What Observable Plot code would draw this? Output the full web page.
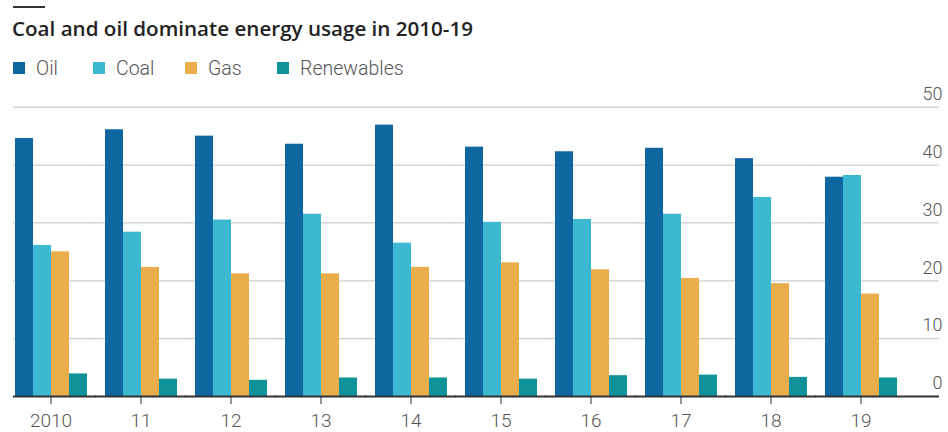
<!DOCTYPE html>
<html>
<head>
<meta charset="utf-8">
<script src="https://cdn.jsdelivr.net/npm/d3@7"></script>
<script src="https://cdn.jsdelivr.net/npm/@observablehq/plot@0.6"></script>
<style>
  body { margin: 0; background: #fff; font-family: "Open Sans", sans-serif; }
  #wrap { position: relative; width: 948px; height: 432px; overflow: hidden; background: #fff; }
  #topline { position: absolute; left: 13px; top: 6px; width: 32px; height: 2px; background: #333; }
  #title { position: absolute; left: 12px; top: 15px; font-size: 20.6px; font-weight: 600; color: #222; white-space: nowrap; line-height: 26px; }
  #legend { position: absolute; left: 0; top: 56px; height: 24px; width: 948px; }
  .item { position: absolute; top: 0; height: 24px; display: flex; align-items: center; font-size: 19.5px; color: #555; font-family: Roboto, sans-serif; font-weight: 300; white-space: nowrap; }
  .sw { width: 12px; height: 12px; margin-right: 11px; flex: none; }
  #chart { position: absolute; left: 0; top: 80px; }
</style>
</head>
<body>
<div id="wrap">
  <div id="topline"></div>
  <div id="title">Coal and oil dominate energy usage in 2010-19</div>
  <div id="legend"></div>
  <div id="chart"></div>
</div>
<script>
const years = ["2010","2011","2012","2013","2014","2015","2016","2017","2018","2019"];
const yearLabels = ["2010","11","12","13","14","15","16","17","18","19"];
const series = ["Oil","Coal","Gas","Renewables"];
const colors = ["#0f67a0","#3cb8d0","#e9ae4b","#0f9299"];
const oil = [44.6,46.1,45.0,43.6,46.9,43.1,42.3,42.9,41.1,37.9];
const coal = [26.1,28.4,30.5,31.5,26.5,30.1,30.6,31.5,34.4,38.2];
const gas = [25.0,22.3,21.2,21.2,22.3,23.1,21.9,20.4,19.5,17.7];
const renewables = [3.9,3.0,2.8,3.2,3.2,3.0,3.6,3.7,3.3,3.2];
const yTicks = [0,10,20,30,40,50];

const seriesValues = [oil, coal, gas, renewables];
const data = years.flatMap((yr, i) => series.map((s, j) => ({year: yr, series: s, value: seriesValues[j][i]})));

// legend (HTML, above the SVG)
const legendLeft = [13, 93, 185, 277];
const legend = document.getElementById("legend");
series.forEach((s, j) => {
  const it = document.createElement("div");
  it.className = "item";
  it.style.left = legendLeft[j] + "px";
  const sw = document.createElement("span");
  sw.className = "sw";
  sw.style.background = colors[j];
  it.appendChild(sw);
  it.appendChild(document.createTextNode(s));
  legend.appendChild(it);
});

const first = years[0], last = years[years.length - 1];
// horizontal rules drawn per facet, extended across the gaps between groups
function rules(ticks, style) {
  const rows = years.flatMap(yr => ticks.map(t => ({year: yr, v: t})));
  const sel = f => rows.filter(f);
  return [
    Plot.ruleY(sel(d => d.year !== first && d.year !== last), {fx: "year", y: "v", insetLeft: -8, insetRight: -8, ...style}),
    Plot.ruleY(sel(d => d.year === first), {fx: "year", y: "v", insetLeft: 0, insetRight: -8, ...style}),
    Plot.ruleY(sel(d => d.year === last), {fx: "year", y: "v", insetLeft: -8, insetRight: -41, ...style})
  ];
}

const chart = Plot.plot({
  width: 948,
  height: 352,
  marginTop: 26.7,
  marginBottom: 36,
  marginLeft: 13,
  marginRight: 3,
  style: {fontFamily: "Roboto, sans-serif", background: "transparent", overflow: "visible"},
  fx: {domain: years, paddingInner: 0.17, paddingOuter: 0.226, align: 0, label: null},
  x: {domain: series, padding: 0, axis: null},
  y: {domain: [0, 50], axis: null},
  color: {domain: series, range: colors},
  marks: [
    ...rules(yTicks.filter(t => t > 0), {stroke: "#cfcfcf", strokeWidth: 1.2}),
    Plot.barY(data, {fx: "year", x: "series", y: "value", fill: "series"}),
    ...rules([0], {stroke: "#333", strokeWidth: 2}),
    Plot.text(yTicks.map(t => ({year: last, v: t})), {fx: "year", y: "v", text: d => String(d.v), frameAnchor: "right", textAnchor: "end", dx: 44, dy: -13, fontSize: 18, fill: "#555", fontWeight: 300}),
    Plot.axisFx({anchor: "bottom", tickSize: 8, tickPadding: 9, fontSize: 19, fontWeight: 300, color: "#555", stroke: "#333",
      tickFormat: d => yearLabels[years.indexOf(d)], label: null})
  ]
});
document.getElementById("chart").appendChild(chart);
</script>
</body>
</html>
